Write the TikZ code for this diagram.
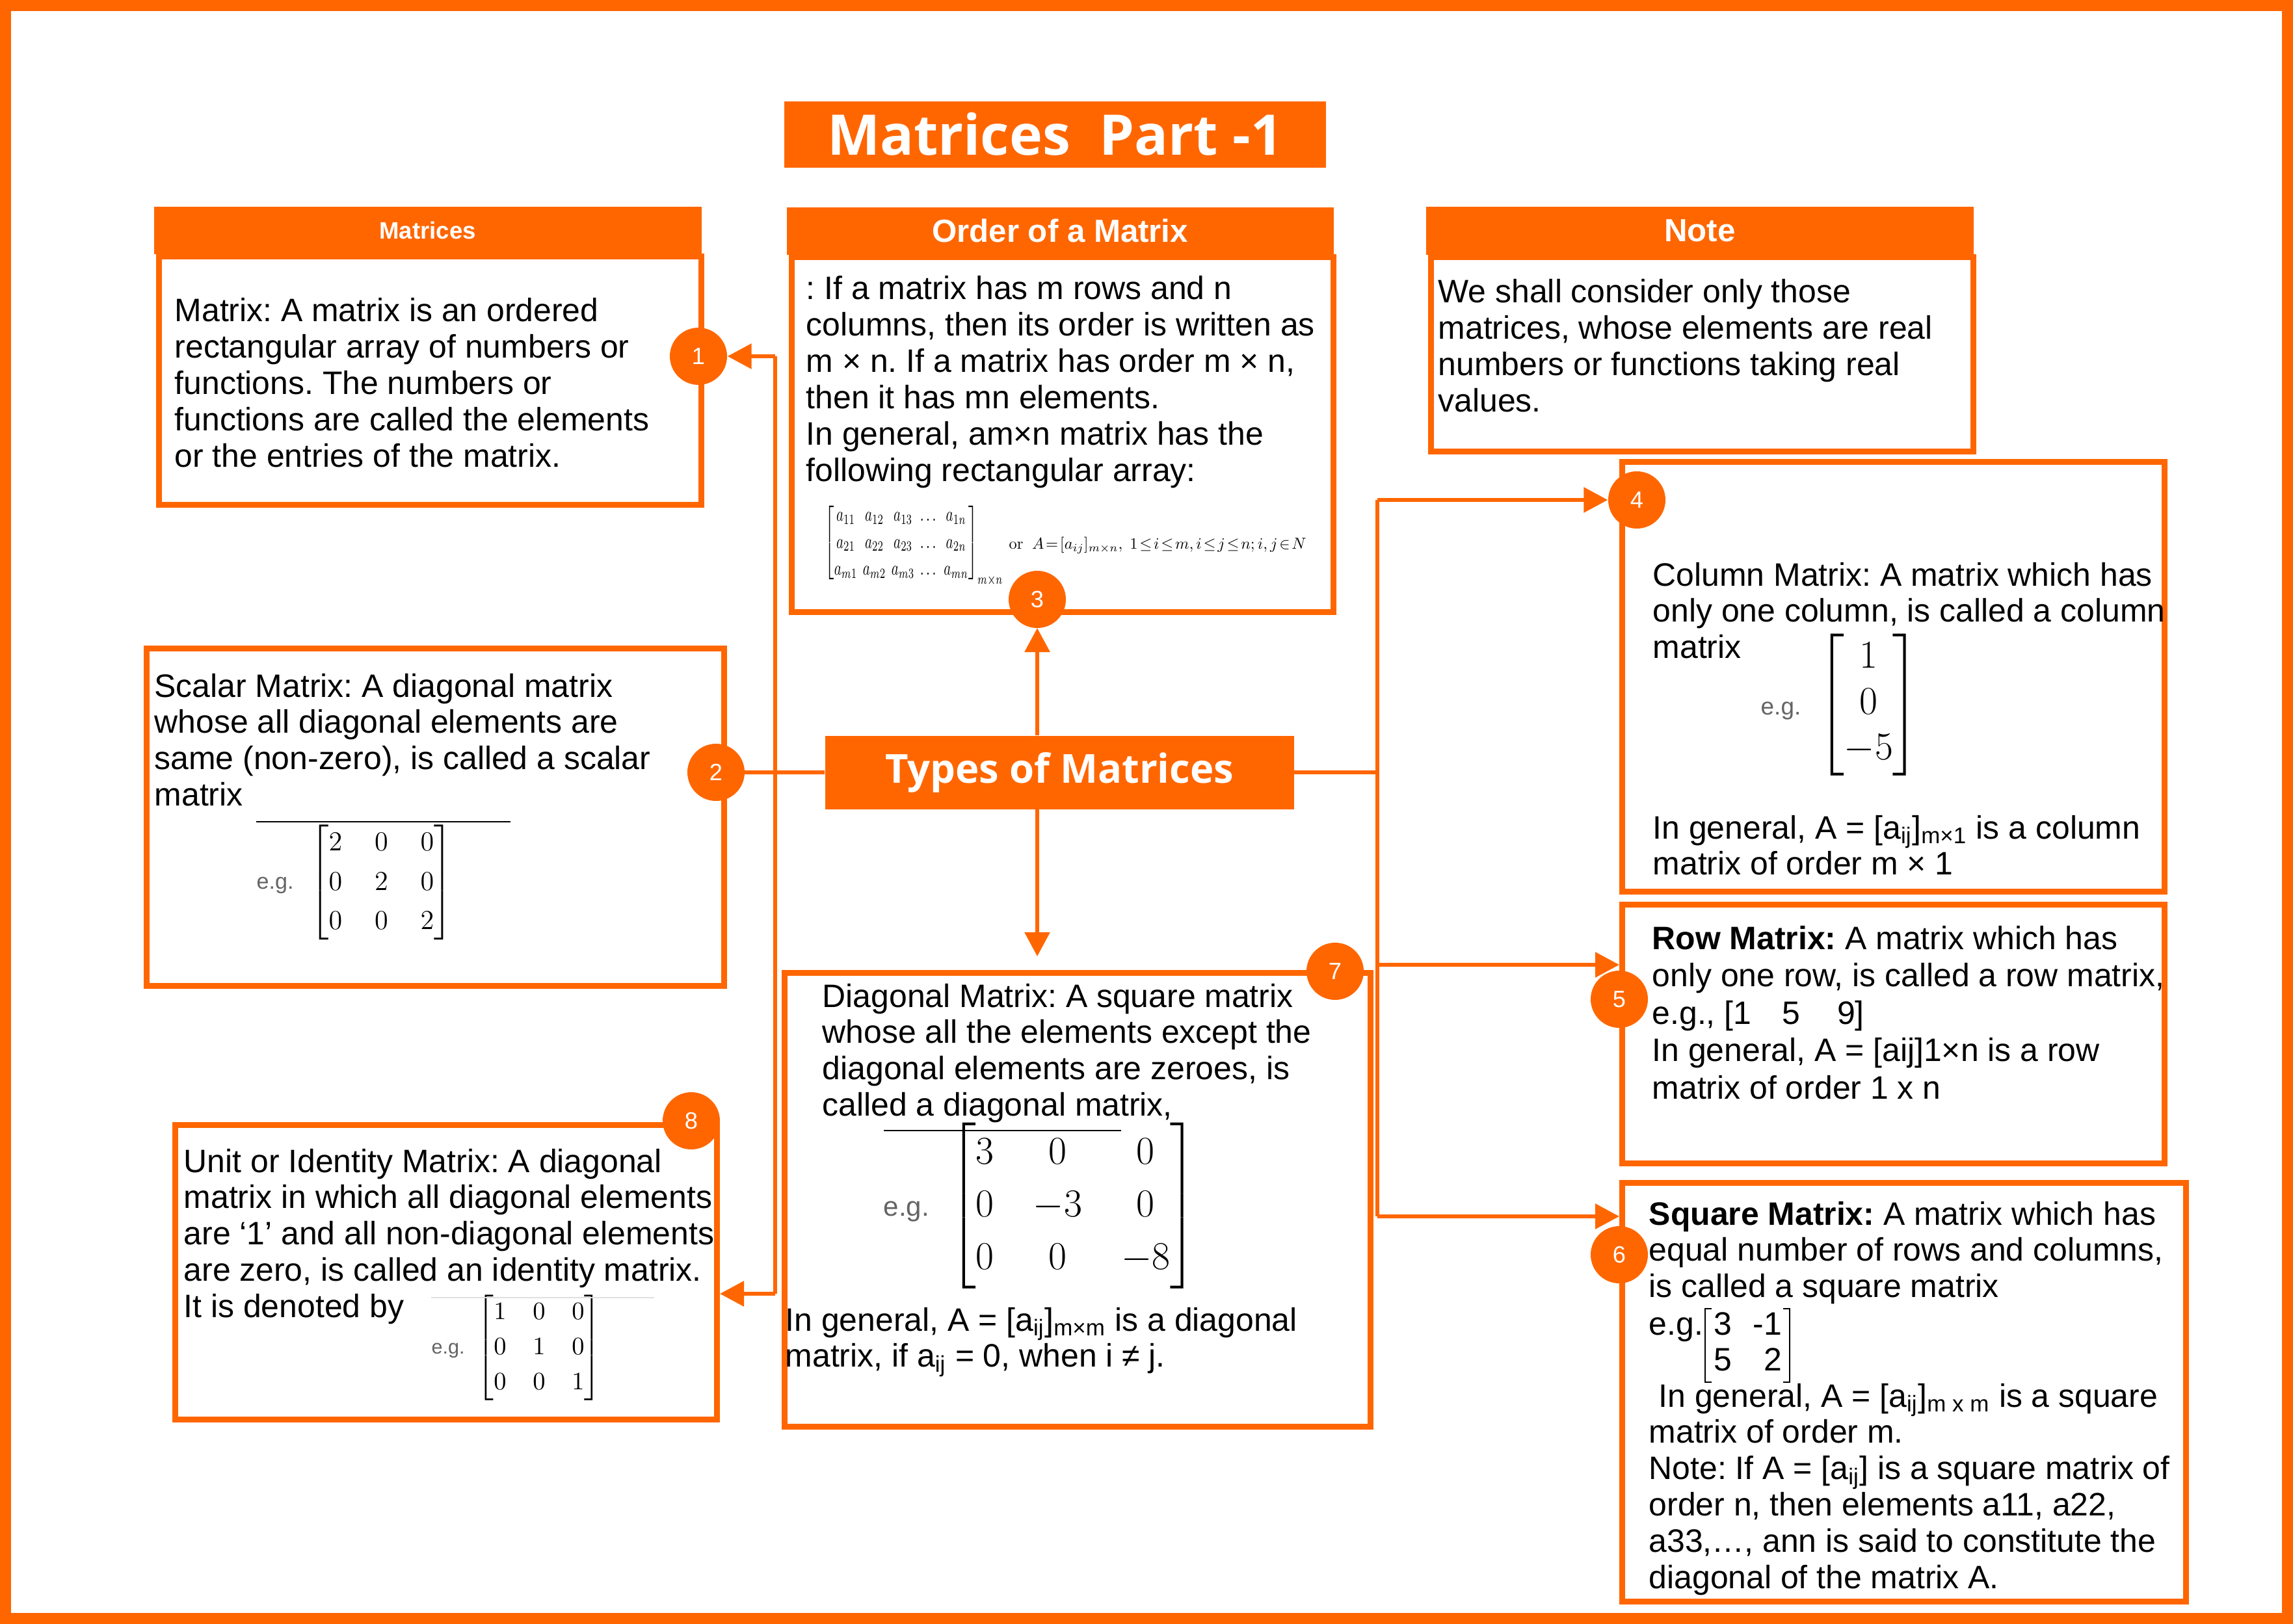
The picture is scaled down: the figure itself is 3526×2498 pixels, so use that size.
\documentclass[tikz,border=0pt]{standalone}
\usepackage[no-math]{fontspec}
\usepackage{amsmath}
\usepackage{graphicx}
\setmainfont{Liberation Sans}
\newfontfamily\titolofont{Open Sans}
\usetikzlibrary{arrows.meta}
\frenchspacing
\definecolor{arancio}{RGB}{255,102,0}
\definecolor{grigioEsempio}{RGB}{100,100,100}
% etichetta grigia "e.g." delle matrici incollate
\newcommand{\esempio}[1]{\textcolor{grigioEsempio}{\fontsize{#1}{#1}\selectfont e.g.}}
% matrice tra parentesi quadre: allungamento righe, spazio colonne, contenuto
\newcommand{\matrice}[3]{{\renewcommand{\arraystretch}{#1}\setlength{\arraycolsep}{#2}$\begin{bmatrix}#3\end{bmatrix}$}}
% righe di testo allineate a sinistra, base sulla prima riga
\newcommand{\righe}[1]{\begin{tabular}[t]{@{}l@{}}#1\end{tabular}}

\begin{document}
\begin{tikzpicture}[x=0.1mm,y=-0.1mm,
  riquadro/.style={draw=arancio,line width=0.9mm,inner sep=0pt,anchor=north west},
  testata/.style={fill=arancio,inner sep=0pt,anchor=north west,text=white,
    font=\bfseries\fontsize{14}{16}\selectfont},
  testo/.style={anchor=base west,inner sep=0pt,font=\fontsize{14.2}{15.9}\selectfont},
  numero/.style={circle,fill=arancio,minimum size=8.8mm,inner sep=0pt,text=white,
    font=\fontsize{10.3}{12}\selectfont},
  linea/.style={draw=arancio,line width=0.6mm},
  freccia/.style={linea,-{Triangle[width=3.8mm,length=3.7mm]}},
  staffa/.style={draw=black,line width=0.2mm},
  esempioMat/.style={anchor=west,inner sep=0pt}]
  \useasboundingbox (0,0) rectangle (3526,2498);
  % Cornice esterna
  \draw[arancio,line width=1.7mm] (8.5,8.5) rectangle (3517.5,2489.5);
  % Riquadri: nome / angolo / larghezza / altezza
  \foreach \nome/\x/\y/\l/\a in {
    matrici/240/390/834/382, ordine/1213/391/833/546, nota/2196/391/834/299,
    scalare/221/993/888/519, colonna/2490/706/834/661, riga/2490/1387/834/398,
    quadrata/2490/1815/867/644, diagonale/1202/1492/901/698, unita/265/1726/833/453}{
    \node[riquadro,minimum width=\l*0.1mm,minimum height=\a*0.1mm] (\nome) at (\x,\y) {};
  }
  % Testate e titoli
  \node[testata,minimum width=84.2mm,minimum height=7.3mm,
    font=\bfseries\fontsize{10.4}{12}\selectfont] (testaMatrici) at (236,317) {Matrices};
  \node[testata,minimum width=84.1mm,minimum height=7.3mm] (testaOrdine) at (1209,318) {Order of a Matrix};
  \node[testata,minimum width=84.2mm,minimum height=7.4mm] (testaNota) at (2192,317) {Note};
  \node[testata,minimum width=83.3mm,minimum height=10.2mm,
    font=\titolofont\bfseries\fontsize{24.5}{29}\selectfont] (titolo) at (1205,155) {Matrices\ \ Part -1};
  \node[testata,minimum width=72.1mm,minimum height=11.3mm,
    font=\titolofont\bfseries\fontsize{17.5}{21}\selectfont] (tipi) at (1268,1131) {Types of Matrices};

  % Testi dei riquadri
  \node[testo] (tMatrici) at (268,495) {\righe{Matrix: A matrix is an ordered\\rectangular array of numbers or\\functions. The numbers or\\functions are called the elements\\or the entries of the matrix.}};
  \node[testo] (tOrdine) at (1239,461) {\righe{: If a matrix has m rows and n\\columns, then its order is written as\\m × n. If a matrix has order m × n,\\then it has mn elements.\\In general, am×n matrix has the\\following rectangular array:}};
  \node[testo] (tNota) at (2211,466) {\righe{We shall consider only those\\matrices, whose elements are real\\numbers or functions taking real\\values.}};
  \node[testo] (tColonna) at (2541,901) {\righe{Column Matrix: A matrix which has\\only one column, is called a column\\matrix}};
  \node[testo] (tColonnaGen) at (2541,1290) {\righe{In general, A = [a\textsubscript{ij}]\textsubscript{m×1} is a column\\matrix of order m × 1}};
  \node[testo] (tScalare) at (237,1072) {\righe{Scalar Matrix: A diagonal matrix\\whose all diagonal elements are\\same (non-zero), is called a scalar\\matrix}};
  \node[testo] (tDiagonale) at (1264,1549) {\righe{Diagonal Matrix: A square matrix\\whose all the elements except the\\diagonal elements are zeroes, is\\called a diagonal matrix,}};
  \node[testo] (tDiagonaleGen) at (1207,2047) {\righe{In general, A = [a\textsubscript{ij}]\textsubscript{m×m} is a diagonal\\matrix, if a\textsubscript{ij} = 0, when i ≠ j.}};
  \node[testo] (tUnita) at (282,1803) {\righe{Unit or Identity Matrix: A diagonal\\matrix in which all diagonal elements\\are ‘1’ and all non-diagonal elements\\are zero, is called an identity matrix.\\It is denoted by}};
  \node[testo,font=\fontsize{14.2}{16.4}\selectfont] (tRiga) at (2540,1460) {\righe{\textbf{Row Matrix:} A matrix which has\\only one row, is called a row matrix,\\e.g., [1\hspace{4.7mm}5\hspace{5.7mm}9]\\In general, A = [aij]1×n is a row\\matrix of order 1 x n}};
  \node[testo] (tQuadrata) at (2535,1884) {\righe{\textbf{Square Matrix:} A matrix which has\\equal number of rows and columns,\\is called a square matrix}};
  \node[testo] (egQuadrata) at (2535,2053) {e.g.};
  \node[testo] (matQuadrata) at (2622,2053)
    {\begin{tabular}[t]{@{\hspace{1.3mm}}c@{\hspace{3.2mm}}r@{\hspace{1.1mm}}}3&-1\\5&2\end{tabular}};
  \draw[staffa] ([xshift=1mm]matQuadrata.north west) -| (matQuadrata.south west) -- ++(1mm,0);
  \draw[staffa] ([xshift=-1mm]matQuadrata.north east) -| (matQuadrata.south east) -- ++(-1mm,0);
  \node[testo] (tQuadrataGen) at (2535,2164) {\righe{\hspace*{1.5mm}In general, A = [a\textsubscript{ij}]\textsubscript{m x m} is a square\\matrix of order m.\\Note: If A = [a\textsubscript{ij}] is a square matrix of\\order n, then elements a11, a22,\\a33,…, ann is said to constitute the\\diagonal of the matrix A.}};

  % Matrici di esempio
  \node[esempioMat] (matOrdine) at (1268,837)
    {\resizebox*{27.4mm}{12.8mm}{\setlength{\arraycolsep}{2pt}\renewcommand{\arraystretch}{1.1}%
    $\begin{bmatrix}a_{11}&a_{12}&a_{13}&\dots&a_{1n}\\a_{21}&a_{22}&a_{23}&\dots&a_{2n}\\a_{m1}&a_{m2}&a_{m3}&\dots&a_{mn}\end{bmatrix}_{m\times n}$}};
  \node[esempioMat] (oppure) at (1551,839)
    {\resizebox{45.7mm}{!}{\thickmuskip=2mu plus 1mu
    $\mathrm{or}\ \ A=[a_{ij}]_{m\times n},\ 1\le i\le m,i\le j\le n;i, j\in N$}};
  \node[esempioMat,font=\fontsize{12}{14.5}\selectfont] (matScalare) at (394,1357)
    {\esempio{9.7}\hspace{2.6mm}\matrice{1.18}{7.1pt}{2&0&0\\0&2&0\\0&0&2}};
  \node[esempioMat,font=\fontsize{16}{19.4}\selectfont] (matColonna) at (2707,1084)
    {\esempio{10.5}\hspace{2.6mm}\matrice{1.03}{5pt}{1\\0\\-5}};
  \node[esempioMat,font=\fontsize{16.3}{19.5}\selectfont] (matDiagonale) at (1358,1855)
    {\esempio{12}\hspace{3.1mm}\matrice{1.18}{8.6pt}{3&0&0\\0&-3&0\\0&0&-8}};
  \node[esempioMat,font=\fontsize{10.8}{13}\selectfont] (matUnita) at (663,2073)
    {\esempio{8.7}\hspace{1.9mm}\matrice{1.18}{5.8pt}{1&0&0\\0&1&0\\0&0&1}};
  % Righe sottili sopra le matrici incollate
  \draw[black,line width=0.25mm] (394,1264) -- (785,1264);
  \draw[black,line width=0.2mm] (1359,1739) -- (1724,1739);
  \draw[black!12,line width=0.2mm] (663,1996) -- (1006,1996);

  % Collegamenti
  \coordinate (snodoAlto) at (1192,548);
  \coordinate (snodoBasso) at (1192,1990);
  \coordinate (destraAlto) at (2118,769);
  \coordinate (destraRiga) at (2118,1484);
  \coordinate (destraBasso) at (2118,1871);
  \foreach \n/\x/\y in {1/1074/548, 2/1101/1188, 3/1595/922, 4/2517/769,
    5/2490/1537, 6/2490/1930, 7/2053/1494, 8/1063/1724}
    \coordinate (p\n) at (\x,\y);
  \draw[linea] (snodoAlto) -- (snodoBasso);
  \draw[freccia] (snodoBasso) -- (snodoBasso -| unita.east);
  \draw[linea] (p2) -- (tipi.west);
  \draw[freccia] (tipi.north -| p3) -- ([yshift=-4.4mm]p3);
  \draw[freccia,shorten >=2.1mm] (tipi.south -| p3) -- (diagonale.north -| p3);
  \draw[linea] (tipi.east) -- (tipi.east -| destraAlto);
  \draw[linea] (destraAlto) -- (destraBasso);
  \draw[freccia] (destraRiga) -- (destraRiga -| riga.west);
  \draw[freccia] (destraBasso) -- (destraBasso -| quadrata.west);
  % Numeri nei cerchi
  \foreach \n in {1,...,8}
    \node[numero] (c\n) at (p\n) {\n};
  \draw[freccia] (snodoAlto) -- (c1);
  \draw[freccia] (destraAlto) -- (c4);
\end{tikzpicture}
\end{document}
